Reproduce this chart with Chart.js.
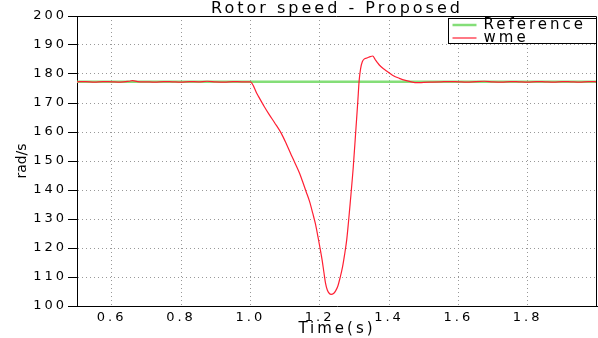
<!DOCTYPE html>
<html>
<head>
<meta charset="utf-8">
<script src="https://cdn.jsdelivr.net/npm/chart.js@4"></script>
<style>
  html, body { margin: 0; padding: 0; background: #fff; }
  #wrap { width: 598px; height: 338px; }
</style>
</head>
<body>
<div id="wrap"><canvas id="speed"></canvas></div>
<script>
// Reference speed (flat line)
const refTime = [0.5, 2.0];
const refSpeed = [177.3, 177.3];

// Measured rotor speed wme
const wmeTime = [
    0.5, 0.525, 0.55, 0.575, 0.6, 0.625, 0.65, 0.66, 0.675, 0.7, 0.725, 0.75, 0.775, 0.8, 0.825, 0.85, 0.875, 0.9, 0.925, 0.95, 0.975, 1.0,
    1.02, 1.04, 1.055, 1.07, 1.089, 1.105, 1.118, 1.13, 1.142, 1.152, 1.161, 1.171, 1.18, 1.188, 1.195, 1.201, 1.207, 1.212, 1.217,
    1.222, 1.228, 1.233, 1.24, 1.246, 1.252, 1.259, 1.266, 1.272, 1.278, 1.283, 1.288, 1.297, 1.305, 1.31, 1.314, 1.318, 1.323,
    1.329, 1.338, 1.346, 1.353, 1.36, 1.366, 1.372, 1.384, 1.396, 1.41, 1.43, 1.45, 1.467, 1.48, 1.5,
    1.525, 1.55, 1.575, 1.6, 1.625, 1.65, 1.675, 1.7, 1.725, 1.75, 1.775, 1.8, 1.825, 1.85, 1.875, 1.9, 1.925, 1.95, 1.975, 2.0
];
const wmeSpeed = [
    177.3, 177.4, 177.2, 177.4, 177.3, 177.2, 177.5, 177.7, 177.4, 177.3, 177.2, 177.4, 177.3, 177.2, 177.4, 177.3, 177.5, 177.3, 177.2, 177.4, 177.3, 177.3,
    173.0, 168.8, 165.9, 163.2, 159.6, 155.6, 152.1, 149.0, 145.8, 142.5, 139.4, 136.0, 132.0, 128.2, 123.9, 120.0, 115.9, 111.8, 107.8,
    105.5, 104.3, 104.0, 104.3, 105.2, 106.7, 109.8, 113.5, 117.8, 122.8, 128.8, 135.4, 148.0, 161.8, 170.5, 177.9, 181.8, 184.2,
    185.2, 185.6, 186.0, 186.2, 185.0, 184.0, 183.1, 181.8, 180.8, 179.6, 178.5, 177.7, 177.2, 177.0, 177.1,
    177.2, 177.3, 177.4, 177.3, 177.2, 177.4, 177.5, 177.3, 177.2, 177.4, 177.3, 177.2, 177.4, 177.3, 177.2, 177.4, 177.3, 177.2, 177.4, 177.3
];

const xTicks = [0.6, 0.8, 1.0, 1.2, 1.4, 1.6, 1.8];

const toPoints = (xs, ys) => xs.map((x, i) => ({ x: x, y: ys[i] }));

// wide lettering like the original plot (but not for the rad/s label)
const spacing = {
    id: 'spacing',
    beforeLayout(chart) { chart.ctx.letterSpacing = '3px'; },
    beforeDraw(chart) {
        chart.ctx.letterSpacing = '3px';
        const y = chart.scales.y;
        if (!y._patched) {
            const orig = y.drawTitle;
            y.drawTitle = function () {
                this.ctx.letterSpacing = '0px';
                orig.apply(this, arguments);
                this.ctx.letterSpacing = '3px';
            };
            y._patched = true;
        }
    },
};

// box around the plot + legend in the top right corner
const frameLegend = {
    id: 'frameLegend',
    afterDraw(chart) {
        const ctx = chart.ctx;
        const a = chart.chartArea;
        ctx.save();
        ctx.strokeStyle = '#000';
        ctx.lineWidth = 1;
        ctx.beginPath();
        ctx.moveTo(a.left, a.top + 0.5);
        ctx.lineTo(a.right - 0.5, a.top + 0.5);
        ctx.lineTo(a.right - 0.5, a.bottom);
        ctx.stroke();

        const w = 148, h = 25;
        const bx = a.right - w - 0.5, by = a.top + 2.5;
        ctx.fillStyle = '#fff';
        ctx.fillRect(bx, by, w, h);
        ctx.strokeRect(bx, by, w, h);
        ctx.font = '15px "DejaVu Sans"';
        ctx.letterSpacing = '3px';
        ctx.textBaseline = 'middle';
        chart.data.datasets.forEach((ds, i) => {
            const y = by + 6.5 + i * 13;
            ctx.strokeStyle = ds.borderColor;
            ctx.lineWidth = ds.borderWidth;
            ctx.beginPath();
            ctx.moveTo(bx + 4, y);
            ctx.lineTo(bx + 28, y);
            ctx.stroke();
            ctx.fillStyle = '#000';
            ctx.fillText(ds.label, bx + 35, y);
        });
        ctx.restore();
    }
};

const speedConfig = {
    type: 'line',
    data: {
        datasets: [
            {
                label: 'Reference',
                data: toPoints(refTime, refSpeed),
                borderColor: '#84de78',
                borderWidth: 2.5,
                pointRadius: 0,
                order: 1,
            },
            {
                label: 'wme',
                data: toPoints(wmeTime, wmeSpeed),
                borderColor: '#ff1f33',
                borderWidth: 1.2,
                pointRadius: 0,
                cubicInterpolationMode: 'monotone',
                order: 0,
            },
        ],
    },
    options: {
        responsive: true,
        maintainAspectRatio: false,
        animation: false,
        layout: { padding: { right: 1 } },
        plugins: {
            legend: { display: false },
            tooltip: { enabled: false },
            title: {
                display: true,
                fullSize: false,
                text: 'Rotor speed - Proposed',
                color: '#000',
                font: { family: 'DejaVu Sans', size: 16, weight: 'normal', lineHeight: 0.875 },
                padding: { top: 2, bottom: 0 },
            },
        },
        scales: {
            x: {
                type: 'linear',
                min: 0.5,
                max: 2.0,
                afterBuildTicks(scale) {
                    scale.ticks = xTicks.map(v => ({ value: v }));
                },
                afterFit(scale) { scale.height = 32; },
                ticks: {
                    color: '#000',
                    font: { family: 'DejaVu Sans', size: 13 },
                    padding: 4,
                    maxRotation: 0,
                    callback: v => v.toFixed(1),
                },
                grid: { color: '#999', drawTicks: false, tickBorderDash: [] },
                border: { color: '#000', width: 1, dash: [1, 3] },
                title: {
                    display: true,
                    text: 'Time(s)',
                    color: '#000',
                    font: { family: 'DejaVu Sans', size: 15 },
                    padding: { top: 0, bottom: 0 },
                },
            },
            y: {
                min: 100,
                max: 200,
                afterFit(scale) { scale.width = 77; },
                ticks: {
                    stepSize: 10,
                    color: '#000',
                    font: { family: 'DejaVu Sans', size: 13 },
                    padding: 1,
                },
                grid: { color: '#999', tickColor: '#000', tickLength: 9, tickBorderDash: [] },
                border: { color: '#000', width: 1, dash: [1, 3] },
                title: {
                    display: true,
                    text: 'rad/s',
                    color: '#000',
                    font: { family: 'DejaVu Sans', size: 14 },
                    padding: { top: 14, bottom: 0 },
                },
            },
        },
    },
    plugins: [spacing, frameLegend],
};

const speedCtx = document.getElementById('speed');
window.speedChart = new Chart(speedCtx, speedConfig);
</script>
</body>
</html>
